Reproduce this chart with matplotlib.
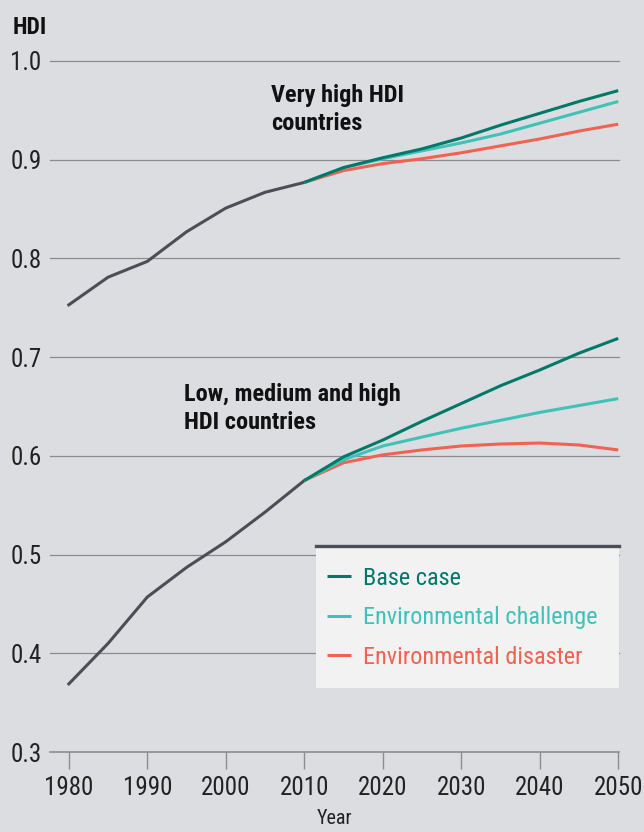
import matplotlib as mpl
mpl.use('Agg')
import matplotlib.pyplot as plt
from matplotlib import font_manager
from matplotlib.patches import Rectangle

# pick a condensed sans if one is installed
installed = set(f.name for f in font_manager.fontManager.ttflist)
candidates = ['Roboto Condensed', 'Archivo Narrow', 'PT Sans Narrow',
              'Liberation Sans Narrow', 'Open Sans Condensed', 'Roboto']
fam = [c for c in candidates if c in installed][:1]
plt.rcParams['font.family'] = fam + ['DejaVu Sans']

# data
years_hist = [1980, 1985, 1990, 1995, 2000, 2005, 2010]
years_proj = [2010, 2015, 2020, 2025, 2030, 2035, 2040, 2045, 2050]

vh_hist = [0.753, 0.781, 0.797, 0.827, 0.851, 0.867, 0.877]
vh_base = [0.877, 0.892, 0.902, 0.911, 0.922, 0.935, 0.947, 0.959, 0.970]
vh_chal = [0.877, 0.892, 0.901, 0.909, 0.917, 0.926, 0.937, 0.948, 0.959]
vh_disa = [0.877, 0.889, 0.896, 0.901, 0.907, 0.914, 0.921, 0.929, 0.936]

lo_hist = [0.369, 0.410, 0.457, 0.487, 0.513, 0.543, 0.575]
lo_base = [0.575, 0.599, 0.616, 0.635, 0.653, 0.671, 0.687, 0.704, 0.719]
lo_chal = [0.575, 0.596, 0.610, 0.619, 0.628, 0.636, 0.644, 0.651, 0.658]
lo_disa = [0.575, 0.593, 0.601, 0.606, 0.610, 0.612, 0.613, 0.611, 0.606]

scenarios = ['Base case', 'Environmental challenge', 'Environmental disaster']
colors = ['#00796b', '#40c2b9', '#ee6352']
hist_color = '#4b4e56'
bg = '#dcdde0'
grid_c = '#8c8c8e'

yticks = [0.3, 0.4, 0.5, 0.6, 0.7, 0.8, 0.9, 1.0]
xticks = [1980, 1990, 2000, 2010, 2020, 2030, 2040, 2050]

fig = plt.figure(figsize=(6.44, 8.32), dpi=100, facecolor=bg)
ax = fig.add_axes([50 / 644, 1 - 752 / 832, 569 / 644, 691 / 832], facecolor=bg)

ax.set_xlim(1977.6, 2050.1)
ax.set_ylim(0.3, 1.0)

# gridlines
for v in yticks[1:]:
    ax.axhline(v, color=grid_c, lw=0.9, zorder=1, clip_on=False)

ax.plot(years_hist, vh_hist, color=hist_color, lw=2.2, zorder=3)
ax.plot(years_hist, lo_hist, color=hist_color, lw=2.2, zorder=3)

for series, c, z in zip([vh_disa, vh_chal, vh_base], colors[::-1], [4, 5, 6]):
    ax.plot(years_proj, series, color=c, lw=2.2, zorder=z, solid_capstyle='butt')
handles = []
for series, c, lab, z in zip([lo_base, lo_chal, lo_disa], colors, scenarios, [6, 5, 4]):
    h, = ax.plot(years_proj, series, color=c, lw=2.2, zorder=z, label=lab,
                 solid_capstyle='butt')
    handles.append(h)

for s in ['top', 'right', 'left']:
    ax.spines[s].set_visible(False)
ax.spines['bottom'].set_color(grid_c)
ax.spines['bottom'].set_linewidth(1.2)

ax.set_xticks(xticks)
ax.set_xticklabels([str(x) for x in xticks])
ax.set_yticks(yticks)
ax.set_yticklabels(['%.1f' % v for v in yticks])
ax.tick_params(axis='x', length=12, width=1.0, color=grid_c, pad=5,
               labelsize=18, labelcolor='#222222')
ax.tick_params(axis='y', length=0, pad=6, labelsize=18, labelcolor='#222222')

ax.set_xlabel('Year', fontsize=14.5, color='#222222', labelpad=7)
fig.text(13 / 644, 1 - 28 / 832, 'HDI', fontsize=17, fontweight='bold',
         color='#111111', va='center', ha='left')

ax.text(2005.8, 0.977, 'Very high HDI\ncountries', fontsize=17.5, fontweight='bold',
        color='#111111', va='top', ha='left', linespacing=1.28)
ax.text(1994.7, 0.674, 'Low, medium and high\nHDI countries', fontsize=17.5,
        fontweight='bold', color='#111111', va='top', ha='left', linespacing=1.28)

# legend box
box = Rectangle((316 / 644, 1 - 688 / 832), 303 / 644, 143 / 832,
                transform=fig.transFigure, facecolor='#f2f2f2', edgecolor='none',
                zorder=7)
fig.patches.append(box)
fig.add_artist(plt.Line2D([316 / 644, 619 / 644], [1 - 545.5 / 832, 1 - 545.5 / 832],
                          transform=fig.transFigure, color='#4b4e56', lw=2.4,
                          zorder=8))
leg = fig.legend(handles=handles, loc='upper left',
                 bbox_to_anchor=(317 / 644, 1 - 557 / 832), frameon=False,
                 fontsize=17.5, handlelength=1.0, handletextpad=0.5,
                 labelspacing=0.68, labelcolor='linecolor', borderaxespad=0)
leg.set_zorder(9)

fig.savefig('out.png', dpi=100, facecolor=bg)
